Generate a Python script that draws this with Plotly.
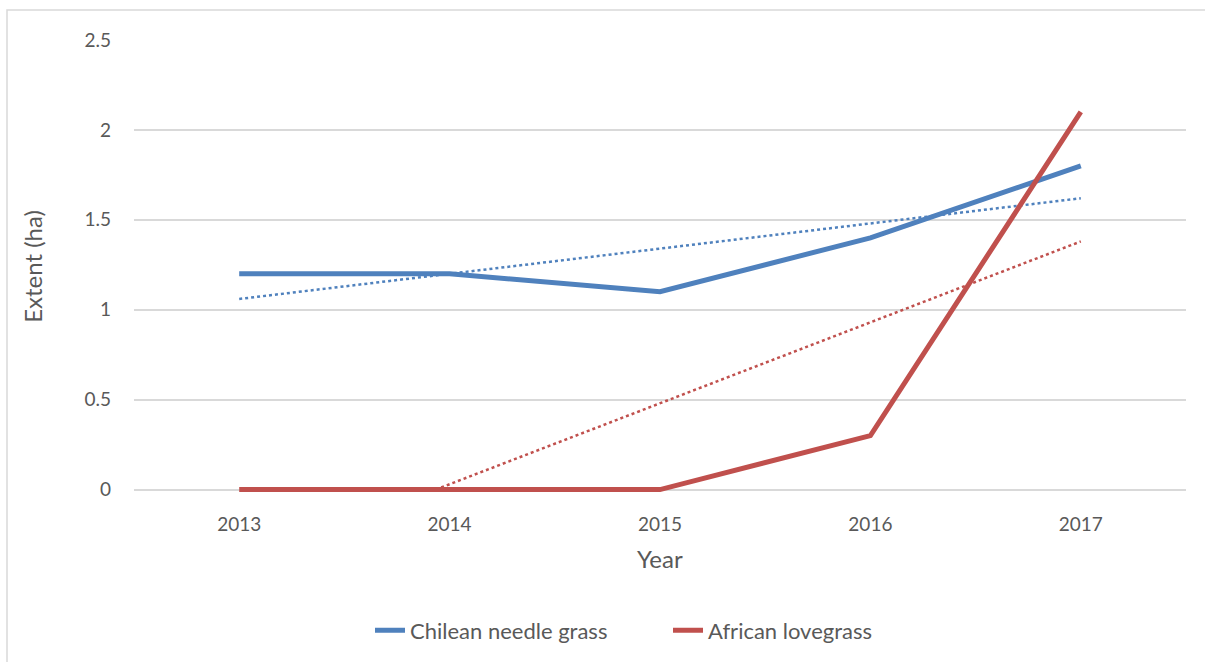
import numpy as np
import plotly.graph_objects as go

years = [2013, 2014, 2015, 2016, 2017]
chilean = [1.2, 1.2, 1.1, 1.4, 1.8]
african = [0.0, 0.0, 0.0, 0.3, 2.1]
y_ticks = [0, 0.5, 1, 1.5, 2, 2.5]
y_tick_labels = ["0", "0.5", "1", "1.5", "2", "2.5"]

BLUE = "#4F81BD"
RED = "#C0504D"
GRID = "#D9D9D9"
TXT = "#595959"
FONT = "Lato, Open Sans, sans-serif"

W, H = 1205, 662
Y_MIN, Y_MAX = -0.03, 2.5
PX_PER_UNIT = 180.0
L, R, T = 134, 19, 40
ph = (Y_MAX - Y_MIN) * PX_PER_UNIT
B = H - T - ph
pw = W - L - R


def py(pix):
    """pixel row -> paper y"""
    return (T + ph - pix) / ph


def px(pix):
    return (pix - L) / pw


def trend(xs, ys):
    xs = np.asarray(xs, float)
    ys = np.asarray(ys, float)
    m, c = np.polyfit(xs, ys, 1)
    x0, x1 = xs[0], xs[-1]
    # clip at the axis minimum (0)
    if m * x0 + c < 0 and m != 0:
        x0 = -c / m
    tx = [x0, x1]
    ty = [max(m * x0 + c, 0.0), m * x1 + c]
    return tx, ty


fig = go.Figure()
tx, ty = trend(years, chilean)
fig.add_trace(go.Scatter(x=tx, y=ty, mode="lines", showlegend=False, hoverinfo="skip",
                         line=dict(color=BLUE, width=2.5, dash="dot")))
tx, ty = trend(years, african)
fig.add_trace(go.Scatter(x=tx, y=ty, mode="lines", showlegend=False, hoverinfo="skip",
                         line=dict(color=RED, width=2.5, dash="dot")))
fig.add_trace(go.Scatter(x=years, y=chilean, mode="lines", name="Chilean needle grass",
                         line=dict(color=BLUE, width=5)))
fig.add_trace(go.Scatter(x=years, y=african, mode="lines", name="African lovegrass",
                         line=dict(color=RED, width=5)))

fig.update_layout(
    width=W, height=H,
    margin=dict(l=L, r=R, t=T, b=B, autoexpand=False),
    paper_bgcolor="white", plot_bgcolor="white",
    font=dict(family=FONT, color=TXT, size=18),
    showlegend=True,
    legend=dict(orientation="h", x=px(370), xanchor="left", y=py(631), yanchor="middle",
                font=dict(size=22, color=TXT), entrywidth=253, entrywidthmode="pixels",
                itemwidth=30),
    xaxis=dict(range=[2012.5, 2017.5], tickvals=years, ticktext=[str(y) for y in years],
               showgrid=False, zeroline=False, showline=False, ticks="",
               ticklabelstandoff=16, tickfont=dict(size=19, color=TXT)),
    yaxis=dict(range=[Y_MIN, Y_MAX], tickvals=y_ticks, ticktext=y_tick_labels,
               showgrid=True, gridcolor=GRID, gridwidth=1.5, zeroline=False, showline=False,
               ticks="", ticklabelstandoff=22, tickfont=dict(size=19, color=TXT)),
    annotations=[
        dict(text="Extent (ha)", x=px(33), y=py(267), xref="paper", yref="paper",
             textangle=-90, showarrow=False, font=dict(size=24, color=TXT), xanchor="center", yanchor="middle"),
        dict(text="Year", x=px(660), y=py(559), xref="paper", yref="paper",
             showarrow=False, font=dict(size=24, color=TXT), xanchor="center", yanchor="middle"),
    ],
    shapes=[
        dict(type="rect", xref="paper", yref="paper",
             x0=px(7), x1=px(W + 5), y0=py(H + 5), y1=py(10),
             line=dict(color=GRID, width=1.5), fillcolor="rgba(0,0,0,0)", layer="below"),
    ],
)

fig.write_html("out.html")
